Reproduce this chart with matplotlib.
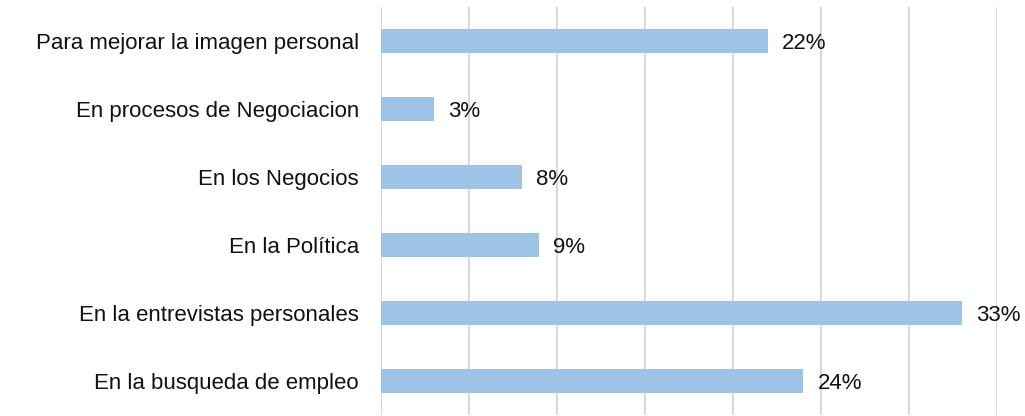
import matplotlib
matplotlib.use("Agg")
import matplotlib.pyplot as plt

categories = [
    "Para mejorar la imagen personal",
    "En procesos de Negociacion",
    "En los Negocios",
    "En la Política",
    "En la entrevistas personales",
    "En la busqueda de empleo",
]
values = [22, 3, 8, 9, 33, 24]
value_labels = ["22%", "3%", "8%", "9%", "33%", "24%"]

plt.rcParams["font.family"] = ["Liberation Sans", "DejaVu Sans"]

fig = plt.figure(figsize=(10.25, 4.16), dpi=100)
ax = fig.add_axes([381 / 1025, 1 / 416, (997 - 381) / 1025, (415 - 7) / 416])

pos = list(range(len(categories)))
ax.barh(pos, values, height=0.35, color="#9dc3e6", zorder=3)

for p, v, lab in zip(pos, values, value_labels):
    ax.text(v + 0.8, p, lab, va="center_baseline", ha="left", fontsize=16,
            color="#111111", zorder=4)

ax.set_xlim(0, 35)
ax.set_ylim(5.5, -0.5)
ax.set_xticks(range(0, 36, 5))
ax.set_xticklabels([])
ax.set_yticks(pos)
ax.set_yticklabels(categories, fontsize=16, color="#111111")
ax.tick_params(axis="y", length=0, pad=16)
ax.tick_params(axis="x", length=0)
ax.grid(axis="x", color="#d9d9d9", linewidth=1.5, zorder=0)
for s in ax.spines.values():
    s.set_visible(False)

fig.savefig("out.png", dpi=100)
